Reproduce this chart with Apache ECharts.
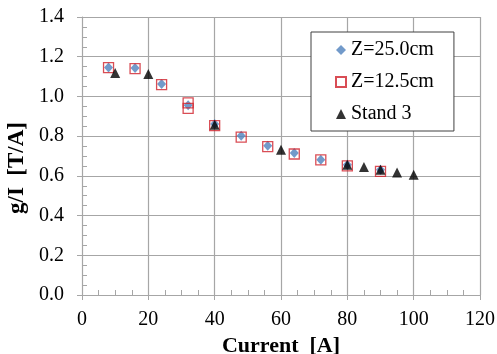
<!DOCTYPE html>
<html>
<head>
<meta charset="utf-8">
<script src="https://cdn.jsdelivr.net/npm/echarts@6/dist/echarts.min.js"></script>
<style>
html,body{margin:0;padding:0;background:#fff;}
#main{width:497px;height:354px;}
</style>
</head>
<body>
<div id="main"></div>
<script>
// Z=25.0cm
var current25 = [8, 16, 24, 32, 40, 48, 56, 64, 72, 80, 90];
var g25 = [1.146, 1.143, 1.062, 0.955, 0.861, 0.802, 0.752, 0.715, 0.681, 0.656, 0.631];
// Z=12.5cm
var current12 = [8, 16, 24, 32, 32, 40, 48, 56, 64, 72, 80, 90];
var g12 = [1.145, 1.140, 1.059, 0.968, 0.940, 0.853, 0.795, 0.747, 0.710, 0.680, 0.650, 0.623];
// Stand 3
var currentStand = [10, 20, 40, 60, 80, 85, 90, 95, 100];
var gStand = [1.118, 1.113, 0.857, 0.731, 0.656, 0.644, 0.631, 0.617, 0.606];

var names = ['Z=25.0cm', 'Z=12.5cm', 'Stand 3'];

function pairs(xs, ys){
    var out = [];
    for(var i=0;i<xs.length;i++){
        out.push([xs[i], ys[i]]);
    }
    return out;
}

var font = 'Liberation Serif';
var gridColor = '#a6a6a6';

var myChart = echarts.init(document.getElementById('main'));
var option = {
    animation: false,
    textStyle: {fontFamily: font},
    grid: {left: 82, right: 17, top: 17, bottom: 59, containLabel: false, outerBoundsMode: 'none'},
    legend: {
        data: names,
        orient: 'vertical',
        left: 311,
        top: 32,
        padding: [8, 20, 7, 24],
        itemGap: 12,
        itemWidth: 10,
        itemHeight: 10,
        borderColor: '#404040',
        borderWidth: 1,
        backgroundColor: '#fff',
        textStyle: {fontFamily: font, fontSize: 20, color: '#000'}
    },
    xAxis: [
        {
            type: 'value', min: 0, max: 120, interval: 20,
            name: 'Current  [A]', nameLocation: 'middle', nameGap: 37,
            nameTextStyle: {fontFamily: font, fontSize: 22, fontWeight: 'bold', color: '#000'},
            axisLine: {lineStyle: {color: gridColor, width: 1}},
            axisTick: {show: true, inside: false, length: 5, lineStyle: {color: gridColor}},
            axisLabel: {fontFamily: font, fontSize: 20, color: '#000', margin: 15},
            splitLine: {show: true, lineStyle: {color: gridColor, width: 1.2}}
        },
        {
            type: 'value', min: 0, max: 120, interval: 20, position: 'bottom',
            axisLine: {show: false},
            axisTick: {show: true, inside: true, length: 5, lineStyle: {color: gridColor}},
            minorTick: {show: true, splitNumber: 4, length: 5, lineStyle: {color: gridColor}},
            axisLabel: {show: false},
            splitLine: {show: false}
        }
    ],
    yAxis: [
        {
            type: 'value', min: 0, max: 1.4, interval: 0.2,
            name: 'g/I  [T/A]', nameLocation: 'middle', nameGap: 52, nameRotate: 90,
            nameTextStyle: {fontFamily: font, fontSize: 23, fontWeight: 'bold', color: '#000', padding: [0, 0, 0, -24]},
            axisLine: {show: true, lineStyle: {color: gridColor, width: 1}},
            axisTick: {show: true, inside: false, length: 5, lineStyle: {color: gridColor}},
            axisLabel: {fontFamily: font, fontSize: 20, color: '#000', margin: 18,
                formatter: function(v){ return v.toFixed(1); }},
            splitLine: {show: true, lineStyle: {color: gridColor, width: 1.2}}
        },
        {
            type: 'value', min: 0, max: 1.4, interval: 0.2, position: 'left',
            axisLine: {show: false},
            axisTick: {show: true, inside: true, length: 5, lineStyle: {color: gridColor}},
            minorTick: {show: true, splitNumber: 4, length: 5, lineStyle: {color: gridColor}},
            axisLabel: {show: false},
            splitLine: {show: false}
        }
    ],
    series: [
        {
            name: names[0], type: 'scatter', symbol: 'diamond', symbolSize: [9, 10],
            itemStyle: {color: '#4f81bd'},
            data: pairs(current25, g25)
        },
        {
            name: names[1], type: 'scatter', symbol: 'rect', symbolSize: 10,
            itemStyle: {color: 'rgba(255,255,255,0)', borderColor: '#d0202a', borderWidth: 1.3},
            data: pairs(current12, g12)
        },
        {
            name: names[2], type: 'scatter', symbol: 'triangle', symbolSize: 10,
            itemStyle: {color: '#000'},
            data: pairs(currentStand, gStand)
        }
    ]
};
myChart.setOption(option);
</script>
</body>
</html>
